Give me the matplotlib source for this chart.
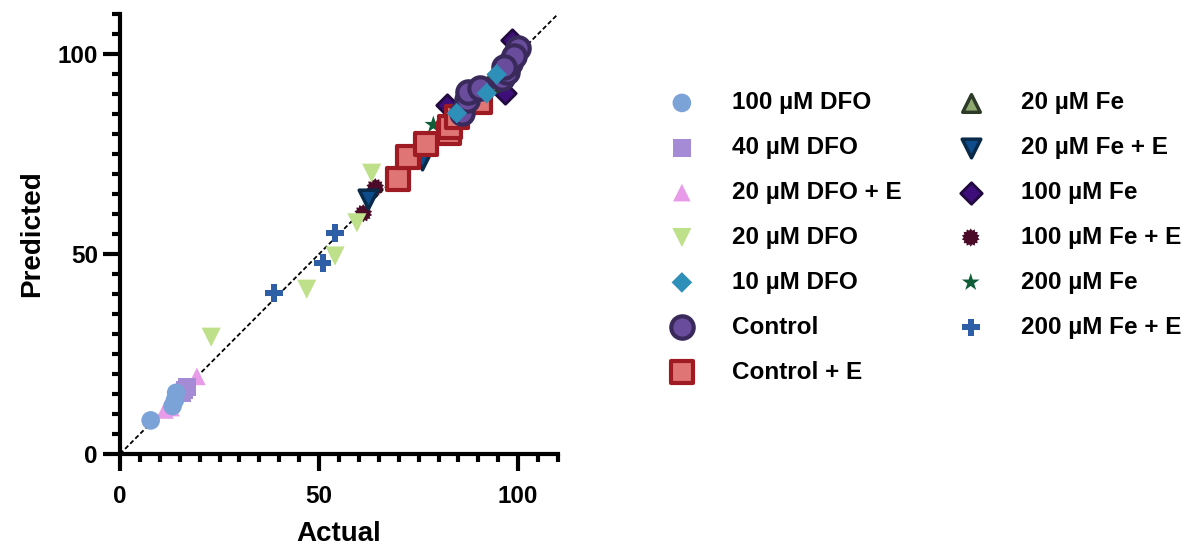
import matplotlib
matplotlib.use("Agg")
import matplotlib.pyplot as plt
from matplotlib.path import Path
from matplotlib.ticker import MultipleLocator

plt.rcParams['font.family'] = ['Liberation Sans', 'DejaVu Sans']
plt.rcParams['font.weight'] = 'bold'

labels = ["100 µM DFO", "40 µM DFO", "20 µM DFO + E", "20 µM DFO", "10 µM DFO",
          "Control", "Control + E", "20 µM Fe", "20 µM Fe + E", "100 µM Fe",
          "100 µM Fe + E", "200 µM Fe", "200 µM Fe + E"]

dfo100_x = [7.7, 13.2, 14.1, 13.8]
dfo100_y = [8.4, 12.0, 15.3, 13.5]
dfo40_x = [15.5, 16.8, 16.2]
dfo40_y = [15.2, 16.8, 16.0]
dfo20e_x = [11.3, 12.8, 19.3]
dfo20e_y = [11.0, 11.6, 19.4]
dfo20_x = [22.9, 46.9, 54.0, 59.5, 63.2]
dfo20_y = [29.2, 41.2, 49.5, 57.8, 70.2]
dfo10_x = [84.6, 92.1, 94.6]
dfo10_y = [85.2, 90.2, 94.9]
ctrl_x = [85.8, 87.1, 87.4, 90.5, 95.9, 97.2, 98.0, 100.0, 99.0, 96.5]
ctrl_y = [85.2, 88.5, 90.6, 91.5, 93.9, 95.6, 97.7, 101.5, 99.5, 96.8]
ctrle_x = [69.7, 72.4, 76.9, 82.5, 82.9, 84.7, 90.5]
ctrle_y = [68.7, 74.3, 77.5, 80.2, 81.8, 84.3, 88.0]
fe20_x = [93.0, 97.0]
fe20_y = [93.0, 98.0]
fe20e_x = [62.4, 75.8]
fe20e_y = [63.7, 73.5]
fe100_x = [82.1, 96.7, 98.4]
fe100_y = [87.3, 90.2, 103.5]
fe100e_x = [61.1, 64.1, 75.0]
fe100e_y = [60.2, 66.7, 74.2]
fe200_x = [78.7, 88.0, 93.0, 96.5, 99.0]
fe200_y = [82.3, 87.0, 92.0, 97.0, 100.5]
fe200e_x = [38.7, 50.9, 54.0]
fe200e_y = [40.2, 47.7, 55.3]

xs = [dfo100_x, dfo40_x, dfo20e_x, dfo20_x, dfo10_x, ctrl_x, ctrle_x, fe20_x,
      fe20e_x, fe100_x, fe100e_x, fe200_x, fe200e_x]
ys = [dfo100_y, dfo40_y, dfo20e_y, dfo20_y, dfo10_y, ctrl_y, ctrle_y, fe20_y,
      fe20e_y, fe100_y, fe100e_y, fe200_y, fe200e_y]

burst = Path.unit_regular_star(14, 0.78)

styles = [
    dict(marker='o', s=180, c='#7BA3D8', edgecolors='none'),
    dict(marker='s', s=160, c='#A58BD6', edgecolors='none'),
    dict(marker='^', s=160, c='#E89BE8', edgecolors='none'),
    dict(marker='v', s=190, c='#BFE08A', edgecolors='none'),
    dict(marker='D', s=110, c='#2E8FB8', edgecolors='none'),
    dict(marker='o', s=260, c='#6A4C9C', edgecolors='#3A2A5C', linewidths=3),
    dict(marker='s', s=230, c='#E07575', edgecolors='#9E1B24', linewidths=3),
    dict(marker='^', s=160, c='#8FAA70', edgecolors='#2E3A28', linewidths=2.5),
    dict(marker='v', s=180, c='#0E4C8C', edgecolors='#0A2A4A', linewidths=2.5),
    dict(marker='D', s=120, c='#3E0E7A', edgecolors='#22093F', linewidths=2),
    dict(marker=burst, s=170, c='#4A0A28', edgecolors='none'),
    dict(marker='*', s=180, c='#0F5E38', edgecolors='none'),
    dict(marker='P', s=160, c='#2E5FA6', edgecolors='none'),
]

fig = plt.figure(figsize=(11.86, 5.5), dpi=100)
ax = fig.add_axes([120/1186, 1-454/550, 438/1186, 440/550])

ax.plot([0, 110], [0, 110], color='black', linestyle=(0, (2.5, 1.5)), linewidth=1.3, zorder=1)

for i, (lab, x, y, st) in enumerate(zip(labels, xs, ys, styles)):
    ax.scatter(x, y, label=lab, zorder=30 - i, clip_on=False, **st)

ax.set_xlim(0, 110)
ax.set_ylim(0, 110)
for sp in ['top', 'right']:
    ax.spines[sp].set_visible(False)
for sp in ['left', 'bottom']:
    ax.spines[sp].set_linewidth(3)
ax.xaxis.set_major_locator(MultipleLocator(50))
ax.yaxis.set_major_locator(MultipleLocator(50))
ax.xaxis.set_minor_locator(MultipleLocator(5))
ax.yaxis.set_minor_locator(MultipleLocator(5))
ax.tick_params(which='major', direction='out', length=12, width=3)
ax.tick_params(which='minor', direction='out', length=6, width=3)
ax.tick_params(axis='x', which='major', pad=10, labelsize=17.5)
ax.tick_params(axis='y', which='major', pad=4, labelsize=17.5)
for t in ax.get_xticklabels() + ax.get_yticklabels():
    t.set_fontweight('bold')

ax.set_xlabel('Actual', fontsize=20, fontweight='bold', labelpad=10)
ax.set_ylabel('Predicted', fontsize=20, fontweight='bold', labelpad=9)

leg = fig.legend(loc='upper left', bbox_to_anchor=(660/1186, 1-84/550), ncol=2,
                 frameon=False, handlelength=1.2, handletextpad=1.46,
                 labelspacing=0.9, columnspacing=2.24, scatterpoints=1,
                 borderaxespad=0, borderpad=0.3,
                 prop={'weight': 'bold', 'size': 17.5})

fig.savefig('out.png', dpi=100)
